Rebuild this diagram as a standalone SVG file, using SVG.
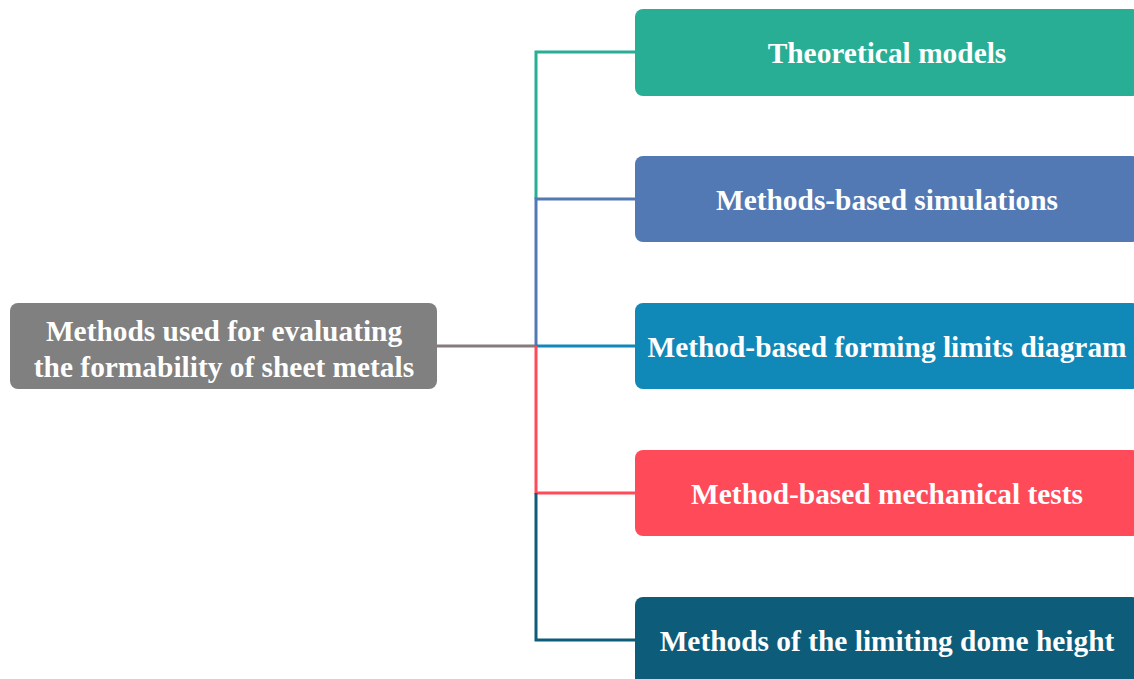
<svg xmlns="http://www.w3.org/2000/svg" width="1134" height="679" viewBox="0 0 1134 679">
  <style>
    .lbl { font-family: "Liberation Serif", "Times New Roman", serif; font-weight: bold; font-size: 29.4px; fill: #ffffff; text-anchor: middle; }
    .wire { fill: none; stroke-width: 3; }
  </style>
  <rect width="1134" height="679" fill="#ffffff"/>

  <!-- connectors: one trunk at x=536, a branch to each method -->
  <g id="connectors">
    <path class="wire" stroke="#857a7d" d="M437 346 H536"/>
    <path class="wire" stroke="#27ae95" d="M536 199 V52 H635"/>
    <path class="wire" stroke="#5279b3" d="M536 346 V199 H635"/>
    <path class="wire" stroke="#1088b8" d="M536 346 H635"/>
    <path class="wire" stroke="#ff4a5a" d="M536 346 V493 H635"/>
    <path class="wire" stroke="#0d5c7a" d="M536 493 V640 H635"/>
  </g>

  <g id="root">
    <rect x="10" y="303" width="427" height="86" rx="8" fill="#808080"/>
    <text class="lbl" x="224" y="341">Methods used for evaluating</text>
    <text class="lbl" x="224" y="377">the formability of sheet metals</text>
  </g>

  <g id="theoretical">
    <rect x="635" y="9" width="505" height="87" rx="8" fill="#27ae95"/>
    <text class="lbl" x="887" y="63">Theoretical models</text>
  </g>

  <g id="simulations">
    <rect x="635" y="156" width="505" height="86" rx="8" fill="#5279b3"/>
    <text class="lbl" x="887" y="210">Methods-based simulations</text>
  </g>

  <g id="fld">
    <rect x="635" y="303" width="505" height="86" rx="8" fill="#1088b8"/>
    <text class="lbl" x="887" y="357">Method-based forming limits diagram</text>
  </g>

  <g id="mechanical">
    <rect x="635" y="450" width="505" height="86" rx="8" fill="#ff4a5a"/>
    <text class="lbl" x="887" y="504">Method-based mechanical tests</text>
  </g>

  <g id="dome">
    <rect x="635" y="597" width="505" height="92" rx="8" fill="#0d5c7a"/>
    <text class="lbl" x="887" y="651">Methods of the limiting dome height</text>
  </g>
</svg>
